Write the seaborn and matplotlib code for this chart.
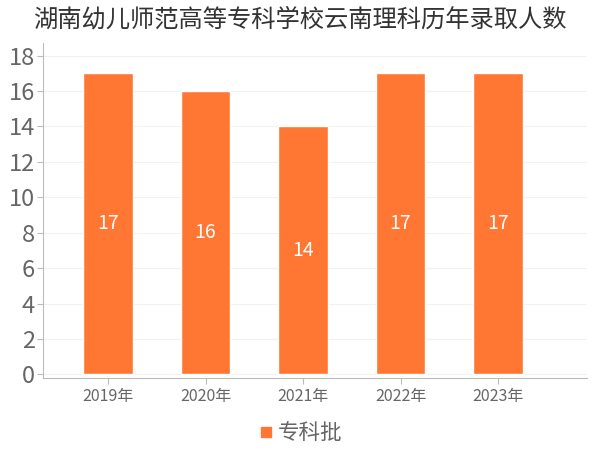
import pandas as pd
import seaborn as sns
import matplotlib.pyplot as plt
from matplotlib.lines import Line2D

years = ["2019年", "2020年", "2021年", "2022年", "2023年"]
counts = [17, 16, 14, 17, 17]
series_name = "专科批"
title = "湖南幼儿师范高等专科学校云南理科历年录取人数"

bar_color = "#FF7733"
text_color = "#666666"

sns.set_style("white")
plt.rcParams['font.family'] = ['Noto Sans CJK SC', 'DejaVu Sans']

df = pd.DataFrame({"年份": years, "人数": counts})

fig = plt.figure(figsize=(6, 4.5), dpi=100)
ax = fig.add_axes([0.072, 0.16, 0.906, 0.744])

sns.barplot(data=df, x="年份", y="人数", color=bar_color, saturation=1,
            width=0.51, ax=ax)

# 柱内数值
for i, v in enumerate(counts):
    ax.text(i, v / 2, str(v), ha="center", va="center", color="white", fontsize=14)

ax.set_xlim(-0.665, 4.91)
ax.set_ylim(-0.2, 18.7)
ax.set_yticks(range(0, 19, 2))
ax.yaxis.grid(True, color="#f2f2f2", linewidth=0.8)
ax.set_axisbelow(True)

for s in ["top", "right"]:
    ax.spines[s].set_visible(False)
ax.spines["left"].set_color("#bbbbbb")
ax.spines["bottom"].set_color("#bbbbbb")

ax.tick_params(axis="y", labelsize=17, colors="#bbbbbb", labelcolor=text_color,
               length=4, left=True, pad=2)
ax.tick_params(axis="x", labelsize=11.5, colors="#bbbbbb", labelcolor=text_color,
               length=4, bottom=True)
ax.set_xlabel("")
ax.set_ylabel("")

fig.suptitle(title, x=0.5, y=0.985, fontsize=17.5, color="#333333")

handle = Line2D([], [], marker="s", linestyle="none", color=bar_color, markersize=7)
fig.legend([handle], [series_name], loc="lower center", bbox_to_anchor=(0.5, -0.03),
           frameon=False, fontsize=15.5, labelcolor=text_color, handletextpad=0.15,
           handlelength=0.8)

fig.savefig("out.png", dpi=100)
